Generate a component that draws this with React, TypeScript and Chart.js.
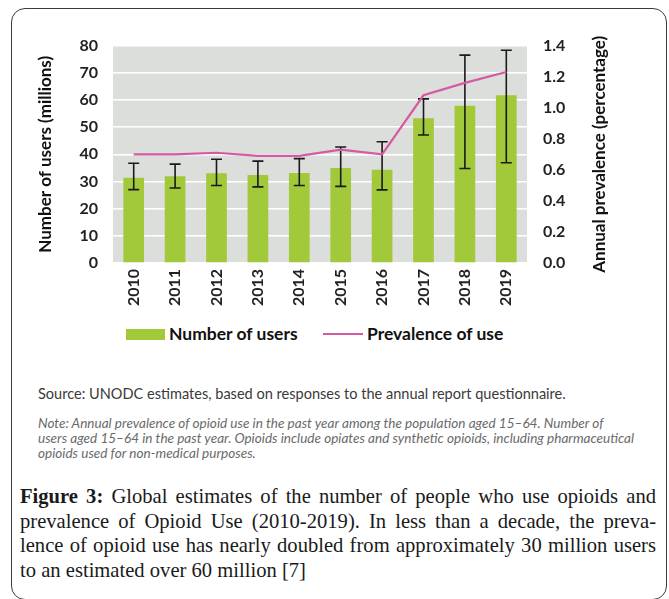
import React, { useEffect, useRef } from "react";
import { Chart, registerables } from "chart.js";

Chart.register(...registerables);

// Opioid users (millions) with uncertainty range, and annual prevalence (%)
const years = ["2010", "2011", "2012", "2013", "2014", "2015", "2016", "2017", "2018", "2019"];
const users = [31.4, 31.9, 33.0, 32.4, 33.1, 35.0, 34.3, 53.3, 57.9, 61.7];
const usersLow = [27.0, 27.6, 28.5, 28.0, 28.5, 28.2, 26.9, 47.1, 34.8, 36.9];
const usersHigh = [36.7, 36.4, 38.2, 37.5, 38.4, 42.7, 44.6, 60.4, 76.5, 78.3];
const prevalence = [0.7, 0.7, 0.71, 0.69, 0.69, 0.73, 0.7, 1.08, 1.16, 1.23];

const usersTitle = "Number of users (millions)";
const prevalenceTitle = "Annual prevalence (percentage)";

const BAR_GREEN = "#a2c93a";
const LINE_PINK = "#d65a9f";
const PLOT_GRAY = "#dcdedc";
const AXIS_FONT = "Lato, 'Open Sans', sans-serif";

const plotBackground = {
  id: "plotBackground",
  beforeDraw(chart: any) {
    const { ctx, chartArea } = chart;
    ctx.save();
    ctx.fillStyle = PLOT_GRAY;
    ctx.fillRect(chartArea.left, chartArea.top, chartArea.right - chartArea.left, chartArea.bottom - chartArea.top);
    ctx.restore();
  },
};

const errorBars = {
  id: "errorBars",
  afterDatasetDraw(chart: any, args: any) {
    if (args.index !== 1) return;
    const { ctx } = chart;
    const yScale = chart.scales.y;
    const meta = chart.getDatasetMeta(1);
    ctx.save();
    ctx.strokeStyle = "#1a1a1a";
    ctx.lineWidth = 1.6;
    meta.data.forEach((bar: any, i: number) => {
      const x = bar.x;
      const yHi = yScale.getPixelForValue(usersHigh[i]);
      const yLo = yScale.getPixelForValue(usersLow[i]);
      const cap = 5.5;
      ctx.beginPath();
      ctx.moveTo(x, yHi);
      ctx.lineTo(x, yLo);
      ctx.moveTo(x - cap, yHi);
      ctx.lineTo(x + cap, yHi);
      ctx.moveTo(x - cap, yLo);
      ctx.lineTo(x + cap, yLo);
      ctx.stroke();
    });
    ctx.restore();
  },
};

const axisTitles = {
  id: "axisTitles",
  afterDraw(chart: any) {
    const { ctx, chartArea } = chart;
    const cy = (chartArea.top + chartArea.bottom) / 2;
    ctx.save();
    ctx.font = `bold 17px ${AXIS_FONT}`;
    ctx.fillStyle = "#111111";
    ctx.textAlign = "center";
    ctx.textBaseline = "middle";
    [
      { x: 46, text: usersTitle },
      { x: 600, text: prevalenceTitle },
    ].forEach(({ x, text }) => {
      ctx.save();
      ctx.translate(x, cy);
      ctx.rotate(-Math.PI / 2);
      ctx.fillText(text, 0, 0);
      ctx.restore();
    });
    ctx.restore();
  },
};

function OpioidChart() {
  const canvasRef = useRef<HTMLCanvasElement | null>(null);

  useEffect(() => {
    if (!canvasRef.current) return;
    const chart = new Chart(canvasRef.current, {
      type: "bar",
      data: {
        labels: years,
        datasets: [
          {
            type: "line",
            label: "Prevalence of use",
            data: prevalence,
            yAxisID: "y1",
            borderColor: LINE_PINK,
            borderWidth: 2.2,
            pointRadius: 0,
            tension: 0,
            order: 0,
          } as any,
          {
            type: "bar",
            label: "Number of users",
            data: users,
            yAxisID: "y",
            backgroundColor: BAR_GREEN,
            categoryPercentage: 0.5,
            barPercentage: 1,
            order: 1,
          },
        ],
      },
      options: {
        responsive: false,
        animation: false,
        devicePixelRatio: 1,
        layout: { padding: { top: 19, left: 0, right: 0, bottom: 0 } },
        plugins: {
          legend: { display: false },
          tooltip: { enabled: false },
        },
        scales: {
          x: {
            grid: { display: false, drawTicks: false },
            border: { display: false },
            ticks: {
              maxRotation: 90,
              minRotation: 90,
              padding: 6,
              color: "#222222",
              font: { family: AXIS_FONT, size: 16, weight: "bold" },
            },
            afterFit: (s: any) => {
              s.height = 57;
            },
          },
          y: {
            position: "left",
            min: 0,
            max: 80,
            ticks: {
              stepSize: 10,
              padding: 15,
              color: "#222222",
              font: { family: AXIS_FONT, size: 16, weight: "bold" },
            },
            grid: { color: "#ffffff", lineWidth: 1.6, drawTicks: false },
            border: { display: false },
            afterFit: (s: any) => {
              s.width = 113;
            },
          },
          y1: {
            position: "right",
            min: 0,
            max: 1.4,
            ticks: {
              stepSize: 0.2,
              padding: 16,
              color: "#222222",
              font: { family: AXIS_FONT, size: 16, weight: "bold" },
              callback: (v: any) => Number(v).toFixed(1),
            },
            grid: { display: false, drawTicks: false },
            border: { display: false },
            afterFit: (s: any) => {
              s.width = 142;
            },
          },
        },
      },
      plugins: [plotBackground, errorBars, axisTitles],
    });
    return () => chart.destroy();
  }, []);

  return (
    <canvas
      ref={canvasRef}
      width={669}
      height={300}
      style={{ position: "absolute", left: 0, top: 20, width: 669, height: 300 }}
    />
  );
}

const legendText: React.CSSProperties = {
  position: "absolute",
  top: 323,
  height: 22,
  lineHeight: "22px",
  font: `bold 17.5px ${AXIS_FONT}`,
  color: "#111111",
  whiteSpace: "nowrap",
};

const noteLines = [
  "Note: Annual prevalence of opioid use in the past year among the population aged 15–64. Number of",
  "users aged 15–64 in the past year. Opioids include opiates and synthetic opioids, including pharmaceutical",
  "opioids used for non-medical purposes.",
];

const captionLines = [
  "Global estimates of the number of people who use opioids and",
  "prevalence of Opioid Use (2010-2019). In less than a decade, the preva-",
  "lence of opioid use has nearly doubled from approximately 30 million users",
  "to an estimated over 60 million [7]",
];

export default function App() {
  const captionFont = "'Liberation Serif', 'Times New Roman', serif";
  return (
    <div
      style={{
        position: "absolute",
        left: 0,
        top: 0,
        width: 669,
        height: 599,
        background: "#ffffff",
        overflow: "hidden",
      }}
    >
      <div
        style={{
          position: "absolute",
          left: 11,
          top: 8,
          width: 656,
          height: 592,
          border: "1.2px solid #3a3a3a",
          borderRadius: 14,
          boxSizing: "border-box",
        }}
      />
      <OpioidChart />

      {/* legend */}
      <div style={{ position: "absolute", left: 126, top: 329, width: 39, height: 11, background: BAR_GREEN }} />
      <div style={{ ...legendText, left: 169 }}>Number of users</div>
      <div style={{ position: "absolute", left: 323, top: 333, width: 40, height: 2.2, background: LINE_PINK }} />
      <div style={{ ...legendText, left: 367 }}>Prevalence of use</div>

      <div
        style={{
          position: "absolute",
          left: 38,
          top: 385,
          lineHeight: "20px",
          font: `14.55px ${AXIS_FONT}`,
          color: "#3a3a3a",
          whiteSpace: "nowrap",
        }}
      >
        Source: UNODC estimates, based on responses to the annual report questionnaire.
      </div>

      {noteLines.map((t, i) => (
        <div
          key={i}
          style={{
            position: "absolute",
            left: 38,
            top: 415 + i * 15,
            lineHeight: "16px",
            font: `italic 13.55px ${AXIS_FONT}`,
            color: "#6a6a6a",
            whiteSpace: "nowrap",
          }}
        >
          {t}
        </div>
      ))}

      {captionLines.map((t, i) => {
        const last = i === captionLines.length - 1;
        return (
          <div
            key={i}
            style={{
              position: "absolute",
              left: 20,
              top: 484 + i * 24.5,
              width: 636,
              lineHeight: "24px",
              height: 24,
              fontFamily: captionFont,
              fontSize: 20.6,
              color: "#1a1a1a",
              textAlign: last ? "left" : "justify",
              textAlignLast: last ? "left" : "justify",
              whiteSpace: last ? "nowrap" : "normal",
            } as React.CSSProperties}
          >
            {i === 0 ? <b>Figure 3: </b> : null}
            {t}
          </div>
        );
      })}
    </div>
  );
}
